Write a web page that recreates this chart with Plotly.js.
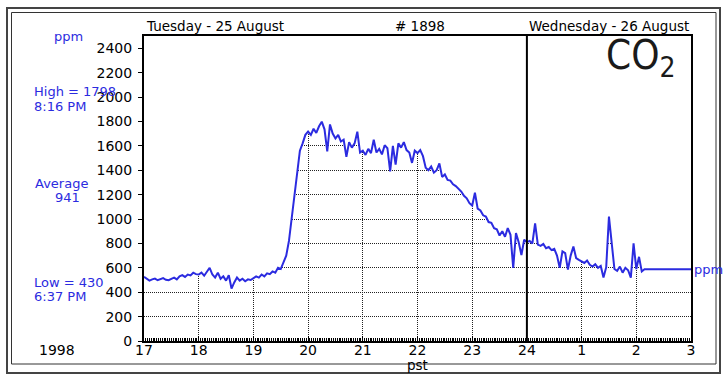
<!DOCTYPE html>
<html><head><meta charset="utf-8">
<script src="https://cdn.plot.ly/plotly-3.0.1.min.js"></script>
<style>html,body{margin:0;padding:0;background:#fff}#chart{width:723px;height:374px}</style>
</head><body><div id="chart"></div>
<script>
// ---- data ----
const startHour = 17;          // 17:00 PST, Tuesday
const stepMinutes = 3;         // one reading every 3 minutes
const co2 = [
  527, 510, 495, 505, 512, 498, 508, 515, 502, 498, 510, 520, 505, 530, 540, 525, 545, 538, 560, 548,
  545, 560, 535, 570, 600, 545, 520, 560, 510, 530, 495, 540, 430, 480, 520, 495, 510, 490, 505, 500,
  515, 530, 520, 545, 530, 555, 548, 570, 560, 600, 590, 640, 700, 820, 1000, 1220, 1380, 1560, 1620, 1690,
  1716, 1690, 1740, 1705, 1760, 1798, 1735, 1555, 1775, 1700, 1660, 1690, 1635, 1650, 1510, 1630, 1585, 1620, 1716, 1545,
  1560, 1525, 1575, 1540, 1650, 1545, 1575, 1530, 1605, 1580, 1390, 1600, 1445, 1620, 1585, 1630, 1565, 1545, 1460, 1560,
  1540, 1565, 1515, 1420, 1400, 1430, 1380, 1400, 1455, 1345, 1365, 1320, 1315, 1285, 1270, 1245, 1225, 1190, 1170, 1130,
  1110, 1215, 1085, 1070, 1030, 1020, 975, 968, 925, 915, 865, 900, 855, 925, 870, 600, 885, 810, 705, 830,
  810, 820, 800, 965, 790, 780, 795, 760, 770, 745, 755, 700, 600, 735, 720, 585, 700, 775, 680, 665,
  655, 640, 660, 625, 610, 630, 600, 615, 520, 605, 1020, 800, 590, 575, 610, 560, 600, 580, 520, 800,
  590, 690, 570, 588
];
const lastReadingHour = 27;    // 03:00 Wednesday
const lastReadingValue = 588;

const tickHours  = [17, 18, 19, 20, 21, 22, 23, 24, 25, 26, 27];
const tickLabels = ['17', '18', '19', '20', '21', '22', '23', '24', '1', '2', '3'];
const yTicks     = [0, 200, 400, 600, 800, 1000, 1200, 1400, 1600, 1800, 2000, 2200, 2400];
const yMax = 2500;
const dayBreakHour = 24;

const headerLeft  = 'Tuesday - 25 August';
const headerMid   = '# 1898';
const headerRight = 'Wednesday - 26 August';
const unitLabel   = 'ppm';
const highLabel   = 'High = 1798';
const highTime    = '8:16 PM';
const avgLabel    = 'Average';
const avgValue    = '941';
const lowLabel    = 'Low = 430';
const lowTime     = '6:37 PM';
const yearLabel   = '1998';
const xUnitLabel  = 'pst';
const gasLabel    = 'CO<sub>2</sub>';

// ---- build ----
const xs = co2.map((_, i) => startHour + i * stepMinutes / 60);
xs.push(lastReadingHour);
const ys = co2.slice();
ys.push(lastReadingValue);

const L = 144, R = 691, T = 36, B = 341;
const px = x => (x - L) / (R - L);
const py = y => (B - y) / (B - T);

const blue = '#2b2be0';
const font = 'DejaVu Sans, sans-serif';

const traces = [
  { x: [startHour, lastReadingHour], y: [yMax, yMax], mode: 'lines',
    line: { width: 0, color: 'rgba(0,0,0,0)' }, hoverinfo: 'skip', showlegend: false },
  { x: xs, y: ys, mode: 'lines', fill: 'tonexty', fillcolor: '#ffffff',
    line: { color: blue, width: 2 }, showlegend: false }
];

function txt(text, x, y, opts) {
  return Object.assign({ text: text, xref: 'paper', yref: 'paper', x: px(x), y: py(y),
    showarrow: false, xanchor: 'left', yanchor: 'middle',
    font: { family: font, size: 13, color: blue } }, opts || {});
}

const annotations = [
  txt(headerLeft, 144, 26, { font: { family: font, size: 13.5, color: '#000' } }),
  txt(headerMid, 420, 26, { xanchor: 'center', font: { family: font, size: 13.5, color: '#000' } }),
  txt(headerRight, 691, 26, { xanchor: 'right', font: { family: font, size: 13.5, color: '#000' } }),
  txt(unitLabel, 68, 37, { xanchor: 'center' }),
  txt(highLabel, 32, 91),
  txt(highTime, 32, 106),
  txt(avgLabel, 61, 183, { xanchor: 'center' }),
  txt(avgValue, 67, 197, { xanchor: 'center' }),
  txt(lowLabel, 32, 282),
  txt(lowTime, 32, 296),
  txt(yearLabel, 57, 350, { xanchor: 'center', font: { family: font, size: 14, color: '#000' } }),
  txt(xUnitLabel, 417.5, 365, { xanchor: 'center', font: { family: font, size: 13.5, color: '#000' } }),
  txt(unitLabel, 692, 269, {}),
  txt(gasLabel, 678, 58, { xanchor: 'right', font: { family: 'DejaVu Sans Condensed, Liberation Sans Narrow, sans-serif', size: 40, color: '#1a1a1a' } })
];

const shapes = [
  { type: 'rect', xref: 'paper', yref: 'paper', x0: px(7), x1: px(720), y0: py(373), y1: py(8),
    line: { color: '#444', width: 2 }, layer: 'above' },
  { type: 'rect', xref: 'paper', yref: 'paper', x0: px(11.5), x1: px(716), y0: py(364), y1: py(12.5),
    line: { color: '#333', width: 1 }, layer: 'above' },
  { type: 'line', xref: 'x', yref: 'paper', x0: dayBreakHour, x1: dayBreakHour, y0: 0, y1: 1,
    line: { color: '#000', width: 2 }, layer: 'above' }
];

const layout = {
  width: 723, height: 374,
  margin: { l: L, r: 723 - R, t: T, b: 374 - B },
  paper_bgcolor: '#fff', plot_bgcolor: '#fff',
  showlegend: false,
  xaxis: {
    range: [startHour, lastReadingHour], tickmode: 'array', tickvals: tickHours, ticktext: tickLabels,
    ticks: 'inside', ticklen: 5, tickcolor: '#000', tickwidth: 1,
    showgrid: true, gridcolor: '#222', gridwidth: 1, griddash: '1px,1px',
    showline: true, linecolor: '#000', linewidth: 2, mirror: true, zeroline: false,
    tickfont: { family: font, size: 14, color: '#000' }, ticklabelstandoff: -5,
    minor: { tickmode: 'linear', tick0: startHour, dtick: 1 / 30, ticks: 'inside', ticklen: 3,
             tickcolor: '#000', tickwidth: 1, showgrid: false },
    fixedrange: true
  },
  yaxis: {
    range: [0, yMax], tickmode: 'array', tickvals: yTicks,
    ticks: 'outside', ticklen: 4, tickcolor: '#000', tickwidth: 1,
    showgrid: true, gridcolor: '#222', gridwidth: 1, griddash: '1px,1px',
    showline: true, linecolor: '#000', linewidth: 2, mirror: true, zeroline: false,
    tickfont: { family: font, size: 14, color: '#000' }, ticklabelstandoff: 3,
    fixedrange: true
  },
  annotations: annotations,
  shapes: shapes
};

Plotly.newPlot('chart', traces, layout, { staticPlot: true, displayModeBar: false });
</script>
</body></html>
